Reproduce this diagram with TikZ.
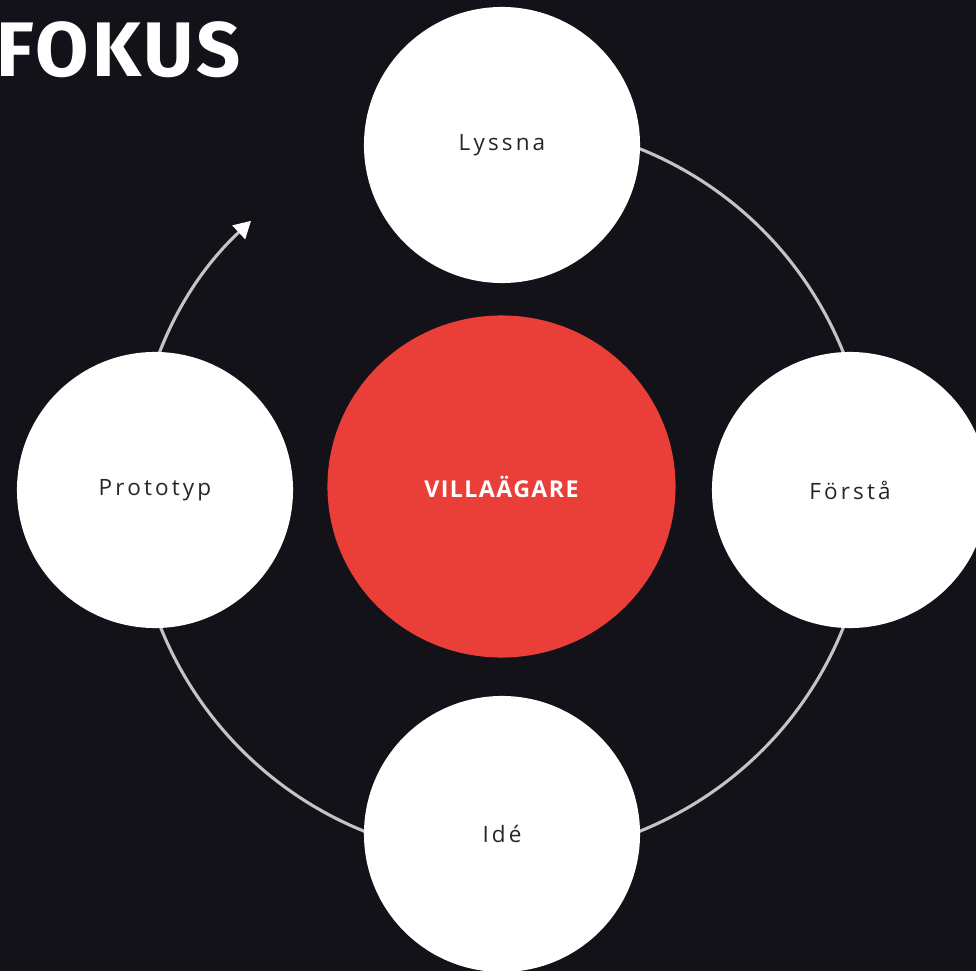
\documentclass[tikz,border=0pt]{standalone}
\usepackage{fontspec}
\setmainfont{Open Sans}
\newfontfamily\titlefont[LetterSpace=4]{Fira Sans}
\newfontfamily\corefont[LetterSpace=6]{Open Sans}
\newfontfamily\labelfont[LetterSpace=14]{Open Sans}
\usetikzlibrary{arrows.meta,shapes.geometric}
\definecolor{bg}{RGB}{19,18,25}
\definecolor{villared}{RGB}{234,63,57}
\definecolor{ringgray}{RGB}{196,196,200}
\tikzset{
	phase/.style={circle, fill=white, inner sep=0, minimum size=6.9cm, font=\labelfont\fontsize{16}{18}\selectfont, text=black!85},
	core/.style={ellipse, fill=villared, inner sep=0, minimum width=8.7cm, minimum height=8.55cm, font=\corefont\bfseries\fontsize{16.5}{20}\selectfont, text=white},
	ring/.style={line width=2.2pt, color=ringgray}
}

\begin{document}
\begin{tikzpicture}[x=0.025cm, y=0.025cm]
			%%%%% START %%%%%
			
			\fill[bg] (0, 0) rectangle (976, -971);
			\useasboundingbox (0, 0) rectangle (976, -971);
			
			\coordinate (mid) at (502, -490);
			
			% ring with arrow
			\draw[ring, -{Triangle[length=12pt, width=13pt, fill=white, color=white]}] (mid) ++(68:368) arc (68:-227:368);
			
			\node[core] (owner) at (501.5, -486.5) {VILLAÄGARE};
			
			\node[phase] (listen) at (502, -145) {Lyssna};
			\node[phase] (grasp) at (850, -490) {Förstå};
			\node[phase] (idea) at (502, -834) {Idé};
			\node[phase] (proto) at (155, -490) {Prototyp};
			
			\node[anchor=base west, inner sep=0, text=white, font=\titlefont\bfseries\fontsize{55}{60}\selectfont] (title) at (-4, -77) {FOKUS};
			
			%%%%% END %%%%%
		\end{tikzpicture}
\end{document}
